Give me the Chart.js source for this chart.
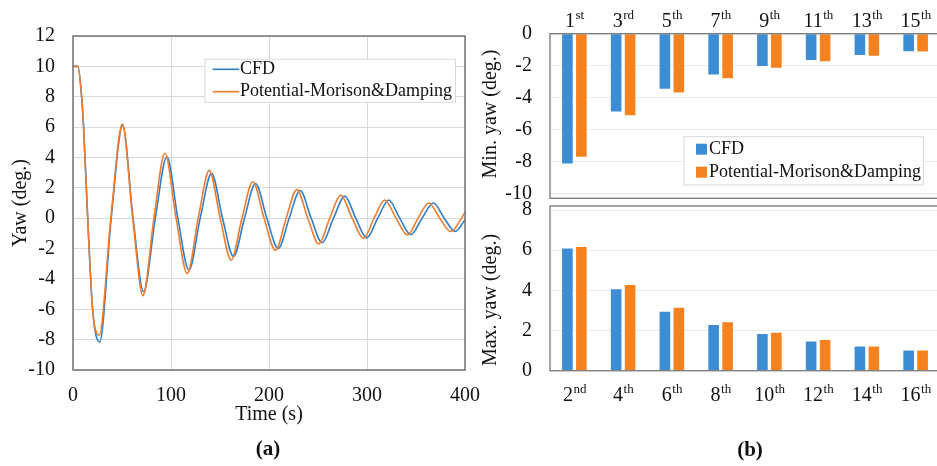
<!DOCTYPE html>
<html>
<head>
<meta charset="utf-8">
<script src="https://cdn.jsdelivr.net/npm/chart.js@4.4.1/dist/chart.umd.min.js"></script>
<style>
  body { margin: 0; width: 937px; height: 466px; overflow: hidden; background: #fff; position: relative; }
  canvas { position: absolute; }
  #yawChart { left: 0; top: 0; }
  #minChart { left: 480px; top: 0; }
  #maxChart { left: 480px; top: 186px; }
  .panel { position: absolute; font: bold 21px "Liberation Serif", serif; color: #111; transform: translate(-50%, -50%); }
</style>
</head>
<body>
<canvas id="yawChart" width="480" height="466"></canvas>
<canvas id="minChart" width="460" height="215"></canvas>
<canvas id="maxChart" width="460" height="280"></canvas>
<div class="panel" style="left:268px;top:448px">(a)</div>
<div class="panel" style="left:750px;top:449px">(b)</div>
<script>
// free-decay yaw, panel (a) -- values read at peaks, troughs and crossings
const cfdTime = [0, 5, 8.8, 10.8, 15, 20, 27.2, 39, 50.6, 61.3, 72, 84, 95.8, 107, 118.3, 129.8, 141.4, 152.6, 163.8, 175, 186.2, 197.8, 209.4, 220.6, 231.8, 243, 254.2, 265.8, 277.3, 288.5, 299.7, 311, 322.2, 333.4, 344.6, 356.2, 367.7, 378.8, 390, 400];
const cfdYaw = [10, 10, 8, 6, 0, -6, -8.15, 0, 6.1, 0, -4.85, 0, 4.05, 0, -3.42, 0, 2.95, 0, -2.52, 0, 2.28, 0, -2.0, 0, 1.82, 0, -1.62, 0, 1.45, 0, -1.3, 0, 1.2, 0, -1.08, 0, 1.0, 0, -0.87, -0.12];
const pmdTime = [0, 5, 8.8, 10.8, 15, 20, 26.8, 38.6, 50.4, 60.9, 71.4, 82.6, 93.8, 105.2, 116.6, 127.8, 139, 150.2, 161.4, 172.4, 183.5, 195, 206.6, 217.5, 228.4, 239.6, 250.8, 262, 273.2, 284.8, 296.4, 307.2, 318.1, 329.6, 341.2, 352.1, 363, 374.2, 385.4, 396.5, 400];
const pmdYaw = [10, 10, 8, 6, 0, -6, -7.7, 0, 6.2, 0, -5.1, 0, 4.28, 0, -3.65, 0, 3.15, 0, -2.76, 0, 2.4, 0, -2.12, 0, 1.88, 0, -1.7, 0, 1.52, 0, -1.33, 0, 1.2, 0, -1.1, 0, 1.0, 0, -0.88, 0, 0.42];

// panel (b) -- minima (odd extrema) and maxima (even extrema)
const minLabels = ["1st", "3rd", "5th", "7th", "9th", "11th", "13th", "15th"];
const cfdMin = [-8.12, -4.87, -3.45, -2.56, -2.02, -1.64, -1.34, -1.1];
const pmdMin = [-7.7, -5.1, -3.68, -2.78, -2.13, -1.72, -1.38, -1.12];
const maxLabels = ["2nd", "4th", "6th", "8th", "10th", "12th", "14th", "16th"];
const cfdMax = [6.09, 4.05, 2.94, 2.27, 1.83, 1.46, 1.21, 1.01];
const pmdMax = [6.16, 4.27, 3.14, 2.41, 1.89, 1.53, 1.21, 1.01];

const seriesNames = ["CFD", "Potential-Morison&Damping"];

const SERIF = '"Liberation Serif", "Times New Roman", serif';
const INK = "#111";
const lineBlue = "#2F7EC8", lineOrange = "#F27C2E";
const barBlue = "#3C8DD4", barOrange = "#F5821F";

Chart.defaults.font.family = SERIF;
Chart.defaults.color = INK;
Chart.defaults.animation = false;
Chart.defaults.plugins.legend.display = false;
Chart.defaults.plugins.tooltip.enabled = false;

// box round the plot area
const frame = {
  id: "frame",
  afterDraw(chart, args, opts) {
    const { ctx, chartArea: a } = chart;
    ctx.save();
    ctx.strokeStyle = opts.color;
    ctx.lineWidth = opts.width;
    ctx.strokeRect(a.left, a.top, a.right - a.left, a.bottom - a.top);
    ctx.restore();
  },
  defaults: { color: "#6b6b6b", width: 1.4 },
};

// excel-like legend in a bordered box
const boxLegend = {
  id: "boxLegend",
  afterDraw(chart, args, o) {
    if (!o.box) return;
    const ctx = chart.ctx;
    const [x, y, w, h] = o.box;
    ctx.save();
    ctx.fillStyle = "#fff";
    ctx.fillRect(x, y, w, h);
    ctx.strokeStyle = "#d9d9d9";
    ctx.lineWidth = 1;
    ctx.strokeRect(x, y, w, h);
    ctx.font = "18px " + SERIF;
    ctx.textBaseline = "middle";
    chart.data.datasets.forEach((ds, i) => {
      const cy = y + o.rowTop + i * o.rowGap;
      if (o.marker === "line") {
        ctx.strokeStyle = ds.borderColor;
        ctx.lineWidth = 1.6;
        ctx.beginPath();
        ctx.moveTo(x + o.padX, cy);
        ctx.lineTo(x + o.padX + o.sample, cy);
        ctx.stroke();
      } else {
        ctx.fillStyle = ds.backgroundColor;
        ctx.fillRect(x + o.padX, cy - 5.5, 11, 11);
      }
      ctx.fillStyle = INK;
      ctx.fillText(ds.label, x + o.textX, cy);
    });
    ctx.restore();
  },
};

// category labels like 1st, 2nd with raised suffix
const ordinalTicks = {
  id: "ordinalTicks",
  afterDraw(chart, args, o) {
    if (!o.baseline) return;
    const ctx = chart.ctx;
    const scale = chart.scales.x;
    ctx.save();
    ctx.fillStyle = INK;
    ctx.textAlign = "left";
    ctx.textBaseline = "alphabetic";
    chart.data.labels.forEach((lab, i) => {
      const [, num, suf] = lab.match(/^(\d+)(\D+)$/);
      ctx.font = "20px " + SERIF;
      const w1 = ctx.measureText(num).width;
      ctx.font = "13px " + SERIF;
      const w2 = ctx.measureText(suf).width;
      const x0 = scale.getPixelForValue(i) - (w1 + w2) / 2;
      ctx.font = "20px " + SERIF;
      ctx.fillText(num, x0, o.baseline);
      ctx.font = "13px " + SERIF;
      ctx.fillText(suf, x0 + w1 + 0.5, o.baseline - 7.5);
    });
    ctx.restore();
  },
};

// rotated axis title at a given spot
const sideTitle = {
  id: "sideTitle",
  afterDraw(chart, args, o) {
    if (!o.text) return;
    const ctx = chart.ctx;
    ctx.save();
    ctx.translate(o.x, o.y);
    ctx.rotate(-Math.PI / 2);
    ctx.font = "20px " + SERIF;
    ctx.fillStyle = INK;
    ctx.textAlign = "center";
    ctx.textBaseline = "middle";
    ctx.fillText(o.text, 0, 0);
    ctx.restore();
  },
};

Chart.register(frame, boxLegend, ordinalTicks, sideTitle);

function toXY(xs, ys) {
  return xs.map((x, i) => ({ x: x, y: ys[i] }));
}

// ---- panel (a)
new Chart(document.getElementById("yawChart"), {
  type: "scatter",
  data: {
    datasets: [
      {
        label: seriesNames[0],
        data: toXY(cfdTime, cfdYaw),
        borderColor: lineBlue,
        backgroundColor: lineBlue,
        order: 1,
      },
      {
        label: seriesNames[1],
        data: toXY(pmdTime, pmdYaw),
        borderColor: lineOrange,
        backgroundColor: lineOrange,
        order: 0,
      },
    ],
  },
  options: {
    responsive: false,
    showLine: true,
    layout: { autoPadding: false, padding: { left: 0, right: 15, top: 36, bottom: 0 } },
    elements: {
      point: { radius: 0 },
      line: { borderWidth: 1.6, cubicInterpolationMode: "monotone" },
    },
    scales: {
      x: {
        type: "linear",
        min: 0,
        max: 400,
        ticks: { stepSize: 100, padding: 14, font: { size: 20 } },
        grid: { color: "#d9d9d9", drawTicks: false },
        border: { display: false },
        title: { display: true, text: "Time (s)", font: { size: 20 }, padding: { top: 0, bottom: 39 } },
        afterFit: (s) => {
          s.height = 96;
          // labels may hang past the plot edge, the layout must not shrink for them
          s.paddingLeft = 0;
          s.paddingRight = 0;
        },
      },
      y: {
        min: -10,
        max: 12,
        ticks: { stepSize: 2, padding: 18, font: { size: 20 } },
        grid: { color: "#d9d9d9", drawTicks: false },
        border: { display: false },
        title: { display: true, text: "Yaw (deg.)", font: { size: 20 }, padding: { top: 9, bottom: 0 } },
        afterFit: (s) => {
          s.width = 73;
          s.paddingTop = 0;
          s.paddingBottom = 0;
        },
      },
    },
    plugins: {
      boxLegend: { box: [205, 59.3, 250.5, 43], marker: "line", padX: 7.7, sample: 26.6, textX: 35, rowTop: 10, rowGap: 22.4 },
    },
  },
});

// ---- panel (b) top: minimum yaw
new Chart(document.getElementById("minChart"), {
  type: "bar",
  data: {
    labels: minLabels,
    datasets: [
      { label: seriesNames[0], data: cfdMin, backgroundColor: barBlue },
      { label: seriesNames[1], data: pmdMin, backgroundColor: barOrange },
    ],
  },
  options: {
    responsive: false,
    layout: { autoPadding: false, padding: { left: 0, right: 0, top: 0, bottom: 16.7 } },
    datasets: { bar: { categoryPercentage: 0.573, barPercentage: 0.76 } },
    scales: {
      x: {
        position: "top",
        ticks: { display: false },
        grid: { display: false },
        border: { display: false },
        afterFit: (s) => { s.height = 33.7; },
      },
      y: {
        min: -10.3,
        max: 0,
        ticks: { stepSize: 2, includeBounds: false, padding: 18, font: { size: 20 } },
        grid: { color: "#ebebeb", drawTicks: false },
        border: { display: false },
        afterFit: (s) => {
          s.width = 70;
          s.paddingTop = 0;
          s.paddingBottom = 0;
        },
      },
    },
    plugins: {
      frame: { color: "#808080" },
      ordinalTicks: { baseline: 26.5 },
      sideTitle: { text: "Min. yaw (deg.)", x: 11, y: 114 },
      boxLegend: { box: [204, 136.7, 239.3, 48.3], marker: "box", padX: 12, textX: 25, rowTop: 12.5, rowGap: 23 },
    },
  },
});

// ---- panel (b) bottom: maximum yaw
new Chart(document.getElementById("maxChart"), {
  type: "bar",
  data: {
    labels: maxLabels,
    datasets: [
      { label: seriesNames[0], data: cfdMax, backgroundColor: barBlue },
      { label: seriesNames[1], data: pmdMax, backgroundColor: barOrange },
    ],
  },
  options: {
    responsive: false,
    layout: { autoPadding: false, padding: { left: 0, right: 0, top: 20, bottom: 0 } },
    datasets: { bar: { categoryPercentage: 0.573, barPercentage: 0.76 } },
    scales: {
      x: {
        ticks: { display: false },
        grid: { display: false },
        border: { display: false },
        afterFit: (s) => { s.height = 95.3; },
      },
      y: {
        min: 0,
        max: 8.2,
        ticks: { stepSize: 2, includeBounds: false, padding: 18, font: { size: 20 } },
        grid: { color: "#ebebeb", drawTicks: false },
        border: { display: false },
        afterFit: (s) => {
          s.width = 70;
          s.paddingTop = 0;
          s.paddingBottom = 0;
        },
      },
    },
    plugins: {
      frame: { color: "#808080" },
      ordinalTicks: { baseline: 214.5 },
      sideTitle: { text: "Max. yaw (deg.)", x: 11, y: 114 },
    },
  },
});
</script>
</body>
</html>
